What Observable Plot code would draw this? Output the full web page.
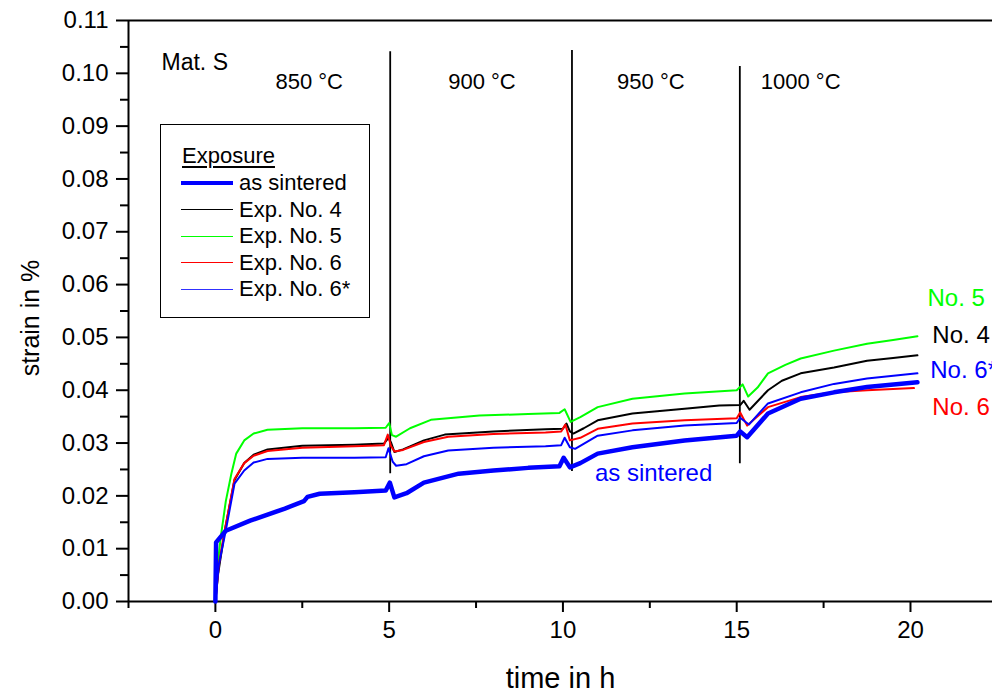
<!DOCTYPE html>
<html>
<head>
<meta charset="utf-8">
<script src="https://cdn.jsdelivr.net/npm/d3@7"></script>
<script src="https://cdn.jsdelivr.net/npm/@observablehq/plot@0.6"></script>
<style>
  html, body { margin: 0; padding: 0; background: #fff; overflow: hidden; }
  #wrap { position: relative; width: 992px; height: 698px; font-family: "Liberation Sans", Arial, sans-serif; }
  #legend { position: absolute; left: 160px; top: 124px; width: 208px; height: 192px; border: 1.5px solid #000; background: #fff; }
  #legend .title { position: absolute; left: 21px; top: 18px; font-size: 22px; text-decoration: underline; text-decoration-thickness: 2px; text-underline-offset: 3px; }
  #legend .item { position: absolute; left: 20px; height: 26px; display: flex; align-items: center; font-size: 22px; white-space: nowrap; }
  #legend .sw { width: 52px; margin-right: 6px; }
  #ytitle { position: absolute; left: 30px; top: 318px; transform: translate(-50%, -50%) rotate(-90deg); font-size: 25px; white-space: nowrap; line-height: 1; }
</style>
</head>
<body>
<div id="wrap"></div>
<script>
// ---- data ----
const seriesNames = ["Exp. No. 4", "Exp. No. 5", "Exp. No. 6", "Exp. No. 6*", "as sintered"];
const seriesColors = ["#000000", "#00ff00", "#ff0000", "#0000ff", "#0000ff"];

const timeNo4 = [0, 0.08, 0.27, 0.55, 0.83, 1.1, 1.5, 2.5, 4.0, 4.85, 4.98, 5.06, 5.15, 5.4, 6.0, 6.6, 8.0, 9.5, 10.0, 10.1, 10.2, 10.3, 10.6, 11.0, 12.0, 13.5, 14.5, 15.1, 15.2, 15.37, 15.9, 16.3, 16.84, 17.8, 18.75, 19.5, 20.2];
const strainNo4 = [0, 0.0053, 0.0134, 0.023, 0.0262, 0.0278, 0.0288, 0.0295, 0.0297, 0.0299, 0.031, 0.030, 0.0283, 0.0288, 0.0305, 0.0316, 0.0322, 0.0326, 0.0327, 0.0337, 0.0322, 0.0318, 0.0328, 0.0343, 0.0356, 0.0365, 0.0371, 0.0372, 0.038, 0.0363, 0.040, 0.0418, 0.0432, 0.0443, 0.0456, 0.0461, 0.0466];

const timeNo5 = [0, 0.05, 0.15, 0.3, 0.46, 0.6, 0.83, 1.1, 1.5, 2.5, 4.0, 4.9, 5.0, 5.08, 5.2, 5.6, 6.2, 7.6, 9.0, 9.9, 10.05, 10.22, 10.5, 11.0, 12.0, 13.5, 15.0, 15.17, 15.33, 15.6, 15.9, 16.4, 16.84, 17.8, 18.75, 19.5, 20.2];
const strainNo5 = [0, 0.006, 0.012, 0.019, 0.0242, 0.028, 0.0305, 0.0318, 0.0325, 0.0328, 0.0328, 0.0329, 0.0338, 0.0315, 0.0312, 0.0328, 0.0344, 0.0352, 0.0355, 0.0357, 0.0364, 0.034, 0.0349, 0.0368, 0.0384, 0.0394, 0.040, 0.0411, 0.0388, 0.0405, 0.0432, 0.0448, 0.046, 0.0475, 0.0488, 0.0495, 0.0502];

const timeNo6 = [0, 0.1, 0.27, 0.55, 0.83, 1.1, 1.5, 2.5, 4.0, 4.85, 4.96, 5.05, 5.15, 5.4, 6.0, 6.7, 8.0, 9.5, 9.95, 10.07, 10.2, 10.5, 11.0, 12.0, 13.5, 15.0, 15.1, 15.3, 15.9, 16.84, 17.8, 18.75, 20.1];
const strainNo6 = [0, 0.007, 0.0135, 0.0232, 0.0262, 0.0276, 0.0285, 0.0291, 0.0294, 0.0296, 0.0316, 0.0295, 0.0284, 0.0287, 0.0302, 0.0312, 0.0317, 0.032, 0.0322, 0.0335, 0.0305, 0.031, 0.0327, 0.0337, 0.0343, 0.0347, 0.0358, 0.0333, 0.0368, 0.0387, 0.0396, 0.040, 0.0404];

const timeNo6s = [0, 0.1, 0.3, 0.55, 0.83, 1.1, 1.5, 2.5, 4.0, 4.9, 4.98, 5.1, 5.2, 5.5, 6.0, 6.7, 8.0, 9.5, 9.95, 10.05, 10.2, 10.35, 11.0, 12.0, 13.5, 15.0, 15.1, 15.35, 15.9, 16.84, 17.8, 18.75, 20.2];
const strainNo6s = [0, 0.007, 0.0135, 0.0223, 0.0248, 0.0263, 0.027, 0.0272, 0.0272, 0.0273, 0.029, 0.0265, 0.0257, 0.026, 0.0275, 0.0286, 0.0291, 0.0294, 0.0296, 0.031, 0.0292, 0.0289, 0.0314, 0.0324, 0.0333, 0.0338, 0.0348, 0.0335, 0.0375, 0.0396, 0.0412, 0.0422, 0.0432];

const timeSint = [0, 0.02, 0.3, 1.0, 2.0, 2.55, 2.65, 3.0, 4.0, 4.9, 5.02, 5.15, 5.5, 6.0, 7.0, 8.0, 9.0, 9.9, 10.02, 10.2, 10.5, 11.0, 12.0, 13.5, 15.0, 15.1, 15.3, 15.9, 16.84, 17.8, 18.75, 20.2];
const strainSint = [0, 0.0112, 0.0134, 0.0153, 0.0176, 0.019, 0.0198, 0.0204, 0.0207, 0.021, 0.0225, 0.0197, 0.0205, 0.0225, 0.0242, 0.0248, 0.0253, 0.0256, 0.0272, 0.0254, 0.0262, 0.028, 0.0292, 0.0305, 0.0314, 0.0322, 0.0311, 0.0356, 0.0384, 0.0396, 0.0406, 0.0415];

// temperature stage boundaries
const boundaryTime = [5.03, 10.26, 15.09];
const boundaryTop = [0.1041, 0.1043, 0.1013];
const boundaryBottom = [0.0242, 0.0246, 0.0261];

const stageLabels = ["850 °C", "900 °C", "950 °C", "1000 °C"];
const endLabels = ["No. 5", "No. 4", "No. 6*", "No. 6"];
const endColors = ["#00ff00", "#000000", "#0000ff", "#ff0000"];

const yMajorTicks = [0, 0.01, 0.02, 0.03, 0.04, 0.05, 0.06, 0.07, 0.08, 0.09, 0.10, 0.11];
const yMinorTicks = [0.005, 0.015, 0.025, 0.035, 0.045, 0.055, 0.065, 0.075, 0.085, 0.095, 0.105];
const xMajorTicks = [0, 5, 10, 15, 20];
const xMinorTicks = [-2.5, 2.5, 7.5, 12.5, 17.5];

// ---- build tables ----
const toRows = (ts, ss, name) => ts.map((t, i) => ({time: t, strain: ss[i], series: name}));
const rowsNo4 = toRows(timeNo4, strainNo4, "Exp. No. 4");
const rowsNo5 = toRows(timeNo5, strainNo5, "Exp. No. 5");
const rowsNo6 = toRows(timeNo6, strainNo6, "Exp. No. 6");
const rowsNo6s = toRows(timeNo6s, strainNo6s, "Exp. No. 6*");
const rowsSint = toRows(timeSint, strainSint, "as sintered");

const boundaries = boundaryTime.map((t, i) => ({t, y1: boundaryBottom[i], y2: boundaryTop[i]}));
const stagePos = [{x: 2.7, y: 0.0983}, {x: 7.67, y: 0.0983}, {x: 12.53, y: 0.0983}, {x: 16.84, y: 0.0983}];
const stageRows = stageLabels.map((s, i) => ({label: s, ...stagePos[i]}));
const endPos = [{x: 20.49, y: 0.0574}, {x: 20.63, y: 0.0504}, {x: 20.57, y: 0.0437}, {x: 20.63, y: 0.0367}];
const endRows = endLabels.map((s, i) => ({label: s, color: endColors[i], ...endPos[i]}));

const chart = Plot.plot({
  width: 992,
  height: 698,
  marginLeft: 128,
  marginRight: 0,
  marginTop: 20,
  marginBottom: 97,
  x: {domain: [-2.5, 22.36]},
  y: {domain: [0, 0.11]},
  style: {fontFamily: "'Liberation Sans', Arial, sans-serif", fontSize: "24px", color: "#000", background: "#fff", overflow: "visible"},
  marks: [
    Plot.axisY({ticks: yMajorTicks, tickFormat: d3.format(".2f"), tickSize: 12, tickPadding: 8, strokeWidth: 2, label: null, fontSize: 24}),
    Plot.axisY({ticks: yMinorTicks, tickSize: 8, strokeWidth: 2, text: null, label: null}),
    Plot.axisX({ticks: xMajorTicks, tickFormat: d3.format("d"), tickSize: 11, tickPadding: 8, strokeWidth: 2, label: null, fontSize: 24}),
    Plot.axisX({ticks: xMinorTicks, tickSize: 7, strokeWidth: 2, text: null, label: null}),
    Plot.ruleY([0], {stroke: "#000", strokeWidth: 2}),
    Plot.ruleY([0.11], {stroke: "#000", strokeWidth: 2}),
    Plot.ruleX([-2.5], {stroke: "#000", strokeWidth: 2}),
    Plot.text(["time in h"], {frameAnchor: "bottom", dy: 86, fontSize: 29}),
    Plot.ruleX(boundaries, {x: "t", y1: "y1", y2: "y2", stroke: "#000", strokeWidth: 1.8}),
    Plot.line(rowsNo4, {x: "time", y: "strain", stroke: seriesColors[0], strokeWidth: 2}),
    Plot.line(rowsNo5, {x: "time", y: "strain", stroke: seriesColors[1], strokeWidth: 2}),
    Plot.line(rowsNo6, {x: "time", y: "strain", stroke: seriesColors[2], strokeWidth: 2}),
    Plot.line(rowsNo6s, {x: "time", y: "strain", stroke: seriesColors[3], strokeWidth: 2}),
    Plot.line(rowsSint, {x: "time", y: "strain", stroke: seriesColors[4], strokeWidth: 4.5}),
    Plot.text(stageRows, {x: "x", y: "y", text: "label", fontSize: 22}),
    Plot.text(["Mat. S"], {x: -1.55, y: 0.102, textAnchor: "start", fontSize: 23}),
    Plot.text(endRows, {x: "x", y: "y", text: "label", fill: "color", textAnchor: "start", fontSize: 24}),
    Plot.text(["as sintered"], {x: 10.92, y: 0.0242, textAnchor: "start", fill: "#0000ff", fontSize: 24})
  ]
});

const wrap = document.getElementById("wrap");
wrap.appendChild(chart);

// y-axis title (HTML overlay)
const ytitle = document.createElement("div");
ytitle.id = "ytitle";
ytitle.textContent = "strain in %";
wrap.appendChild(ytitle);

// legend (HTML overlay)
const legend = document.createElement("div");
legend.id = "legend";
const title = document.createElement("div");
title.className = "title";
title.textContent = "Exposure";
legend.appendChild(title);
const legendOrder = ["as sintered", "Exp. No. 4", "Exp. No. 5", "Exp. No. 6", "Exp. No. 6*"];
const legendColor = {"as sintered": "#0000ff", "Exp. No. 4": "#000000", "Exp. No. 5": "#00ff00", "Exp. No. 6": "#ff0000", "Exp. No. 6*": "#3030ff"};
legendOrder.forEach((name, i) => {
  const item = document.createElement("div");
  item.className = "item";
  item.style.top = (45 + i * 26.5) + "px";
  const sw = document.createElement("div");
  sw.className = "sw";
  sw.style.borderTop = (name === "as sintered" ? 4 : 1.5) + "px solid " + legendColor[name];
  item.appendChild(sw);
  const t = document.createElement("span");
  t.textContent = name;
  item.appendChild(t);
  legend.appendChild(item);
});
wrap.appendChild(legend);
</script>
</body>
</html>
